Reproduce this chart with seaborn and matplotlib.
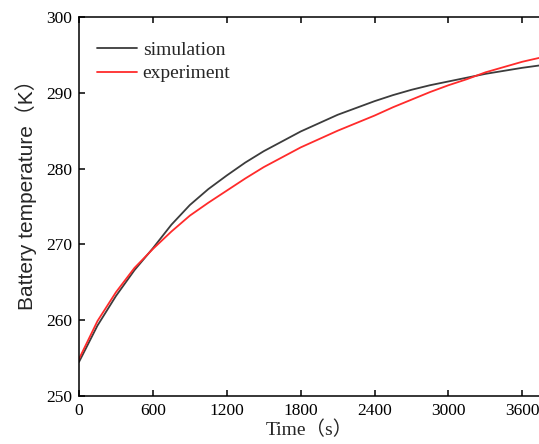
import pandas as pd
import numpy as np
import seaborn as sns
import matplotlib.pyplot as plt

# values
time_s = [0, 150, 300, 450, 600, 750, 900, 1050, 1200, 1350, 1500, 1650, 1800, 1950,
          2100, 2250, 2400, 2550, 2700, 2850, 3000, 3150, 3300, 3450, 3600, 3735]
simulation = [254.5, 259.3, 263.2, 266.6, 269.5, 272.6, 275.2, 277.3, 279.1, 280.8, 282.3, 283.6, 284.9, 286.0,
              287.1, 288.0, 288.9, 289.7, 290.4, 291.0, 291.5, 292.0, 292.5, 292.9, 293.3, 293.6]
experiment = [254.9, 259.9, 263.7, 266.9, 269.4, 271.7, 273.8, 275.5, 277.1, 278.7, 280.2, 281.5, 282.8, 283.9,
              285.0, 286.0, 287.0, 288.1, 289.1, 290.1, 291.0, 291.8, 292.7, 293.4, 294.1, 294.6]

x_ticks = [0, 600, 1200, 1800, 2400, 3000, 3600]
y_ticks = [250, 260, 270, 280, 290, 300]

df = pd.DataFrame({
    'Time': time_s * 2,
    'Temperature': simulation + experiment,
    'Series': ['simulation'] * len(time_s) + ['experiment'] * len(time_s),
})

sns.set_style("ticks")
plt.rcParams['font.family'] = ['Liberation Serif', 'Noto Sans CJK SC']
plt.rcParams['axes.linewidth'] = 1.1

fig = plt.figure(figsize=(5.39, 4.44), dpi=100)
ax = fig.add_axes([0.1466, 0.108, 0.8534, 0.8537])

sns.lineplot(data=df, x='Time', y='Temperature', hue='Series',
             palette={'simulation': '#3c3c3c', 'experiment': '#ff2b2b'},
             linewidth=1.3, ax=ax)

ax.set_xlim(0, 3735)
ax.set_ylim(250, 300)
ax.set_xticks(x_ticks)
ax.set_yticks(y_ticks)
ax.tick_params(direction='in', length=4, width=1.1, labelsize=12.5, top=True,
               colors='black')
ax.tick_params(axis='x', pad=5)
ax.tick_params(axis='y', pad=5)
ax.spines['right'].set_visible(False)
for s in ['left', 'bottom', 'top']:
    ax.spines[s].set_color('black')

ax.set_xlabel('Time（s）', fontsize=14)
ax.xaxis.set_label_coords(0.5, -0.066)
ax.set_ylabel('Battery temperature（K）', fontsize=15,
              family=['Liberation Sans', 'Noto Sans CJK SC'])
ax.yaxis.set_label_coords(-0.092, 0.545)

leg = ax.legend(loc='upper left', frameon=False, fontsize=14, handlelength=2.05,
                handletextpad=0.3, labelspacing=0.3, borderpad=0, borderaxespad=0,
                bbox_to_anchor=(0.039, 0.936))

fig.savefig('out.png', dpi=100)
